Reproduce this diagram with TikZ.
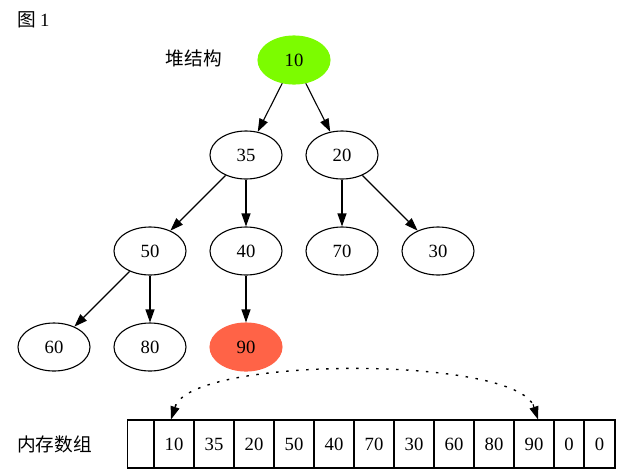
\documentclass[tikz,border=0pt]{standalone}
\usepackage{fontspec}
\setmainfont{Liberation Serif}
\newfontfamily\cjk{Noto Sans CJK SC}
\usetikzlibrary{shapes.geometric,arrows.meta,calc}
\definecolor{lawngreen}{HTML}{7CFC00}
\definecolor{tomato}{HTML}{FF6347}
\begin{document}
\begin{tikzpicture}[x=1pt,y=-1pt,
  txt/.style={font=\fontsize{18.67}{20}\selectfont, text height=12.3pt, text depth=0pt, inner sep=0pt},
  heap/.style={txt, ellipse, draw=black, line width=1.1pt, minimum width=72pt, minimum height=48pt},
  cell/.style={txt, rectangle, draw=black, line width=1.1pt, minimum height=48pt},
  lab/.style={font=\cjk\fontsize{18.67}{20}\selectfont, inner sep=0pt},
  arr/.style={-{Triangle[length=13pt,width=9pt]}, line width=1.1pt},
  dots/.style={line width=1.4pt, dash pattern=on 2.5pt off 7.5pt}
]
\useasboundingbox (0,0) rectangle (621,475);

% labels
\node[lab, anchor=west] (title) at (17,20) {图\ \rmfamily 1};
\node[lab] (heaplab) at (194,58) {堆结构};
\node[lab] (memlab) at (54.5,444) {内存数组};

% heap tree
\node[heap, fill=lawngreen, draw=lawngreen] (n10) at (294,60) {10};
\node[heap] (n35) at (246,155) {35};
\node[heap] (n20) at (342,155) {20};
\node[heap] (n50) at (150,251) {50};
\node[heap] (n40) at (246,251) {40};
\node[heap] (n70) at (342,251) {70};
\node[heap] (n30) at (438,251) {30};
\node[heap] (n60) at (54,347) {60};
\node[heap] (n80) at (150,347) {80};
\node[heap, fill=tomato, draw=tomato] (n90) at (246,347) {90};

\draw[arr] (n10) -- (n35);
\draw[arr] (n10) -- (n20);
\draw[arr] (n35) -- (n50);
\draw[arr] (n35) -- (n40);
\draw[arr] (n20) -- (n70);
\draw[arr] (n20) -- (n30);
\draw[arr] (n50) -- (n60);
\draw[arr] (n50) -- (n80);
\draw[arr] (n40) -- (n90);

% memory array
\node[cell, minimum width=27pt] (c0) at (141,444) {};
\node[cell, minimum width=40pt] (c1) at (174,444) {10};
\node[cell, minimum width=40pt] (c2) at (214,444) {35};
\node[cell, minimum width=40pt] (c3) at (254,444) {20};
\node[cell, minimum width=40pt] (c4) at (294,444) {50};
\node[cell, minimum width=40pt] (c5) at (334,444) {40};
\node[cell, minimum width=40pt] (c6) at (374,444) {70};
\node[cell, minimum width=40pt] (c7) at (414,444) {30};
\node[cell, minimum width=40pt] (c8) at (454,444) {60};
\node[cell, minimum width=40pt] (c9) at (494,444) {80};
\node[cell, minimum width=40pt] (c10) at (534,444) {90};
\node[cell, minimum width=30pt] (c11) at (569,444) {0};
\node[cell, minimum width=31pt] (c12) at (599.5,444) {0};

% dotted two-way link between the cells of 10 and 90
\coordinate (ta) at ($(c1.north)+(-3,0)$);
\coordinate (tb) at ($(c10.north)+(4,0)$);
\coordinate (ba) at ($(ta)+(5,-15.2)$);
\coordinate (bb) at ($(tb)+(-5,-15.2)$);
\draw[dots] ($(ta)+(4.2,-12.8)$) .. controls +(17,-51) and +(-17,-51) .. ($(tb)+(-4.2,-12.8)$);
\draw[arr] (ba) -- (ta);
\draw[arr] (bb) -- (tb);
\end{tikzpicture}
\end{document}
